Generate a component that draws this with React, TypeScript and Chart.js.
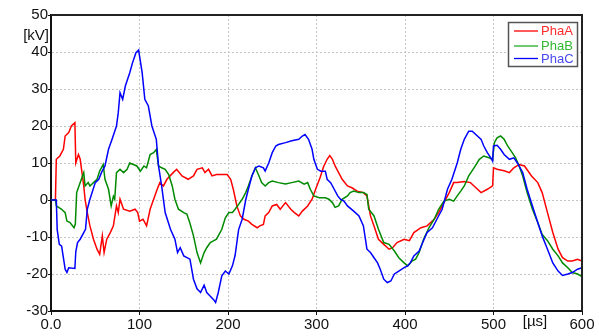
import React, { useEffect, useRef } from "react";
import { Chart, registerables } from "chart.js";

Chart.register(...registerables);

const seriesNames = ["PhaA", "PhaB", "PhaC"];
const lineColors = ["#ff0000", "#008a00", "#0000ff"];
const legendTextColors = ["#ff2a2a", "#33b833", "#4a4af0"];

const xTicks = [0, 100, 200, 300, 400, 500, 600];
const yTicks = [-30, -20, -10, 0, 10, 20, 30, 40, 50];

const tA = [0,5,6,10,14,16,20,23,27,28,31,33,35,37,38.5,41,44,48,52,55,58,60,63,67,70.5,74,76,78,82,89,95,98,100,104,108,112,116,120,123,127,131,138,142,148,155,161,165,171,174,178,182,187,193,199,203,206,210,214,218,223,227,233,236,240,242,246,250,255,259,265,271,275,280,284,290,295,299,304,308,312,315,318,321,325,329,335,340,346,353,357,361,365,370,376,382,386,391,399,405,410,418,425,433,438,444,450,455,459,467,474,478,486,493,499,500,504,512,518,523,529,535,543,550,555,561,567,573,578,584,589,595,600];
const vA = [0,0,11,11.9,13.7,17.3,18.2,20,20.9,10,12.3,11,7.4,3.8,0.2,-3.4,-7,-10.6,-13.3,-14.7,-9.7,-14.2,-10.6,-8.8,-7,-1.6,-3.4,0.2,-2.5,-3,-2.5,-3.4,-5.7,-5.2,-7,-2.5,0.2,2.9,4.7,3.8,5.6,7.4,8.3,6.5,5.6,6.5,8.3,8.7,7.4,8.3,6.5,6.9,6.9,6.9,5.6,2.9,-1.6,-4.3,-5.2,-5.7,-6.6,-7.5,-7,-6.6,-4.3,-3.4,-1.6,-1.2,-2.5,-0.7,-2.5,-3.4,-4.3,-3,-1.6,0.2,2.9,6,9,11,12,11,9.2,7.4,5.6,3.8,3.3,2.4,2,1.1,-4.3,-7,-10.6,-12,-13.3,-12.9,-11.5,-10.6,-11,-8.8,-7.5,-7,-5.2,-3.4,-0.7,2,4.7,4.7,5,4.7,3.8,2,2.9,3.8,8.7,8.3,7.9,7.4,8.7,9.6,9.2,6.5,4.7,2,-3.4,-8.8,-13.3,-15.6,-16.5,-16.5,-16,-16.5];

const tB = [0,5,6,12,16,18,21.5,26,27.5,29,33,37,38.5,42,44,48,52,55,59,61,65,68,70.5,72,74,78,82,86,89,93,97,101,105,108,112,116,119,121.5,125,129,133,137,140,144,150,153.5,157,161,165,169,173,176,180,184,187,193,197,201,205,208,212,216,220,223,227,231,235,238,242,246,250,257,265,272,280,286,290,293,297,303,310,314,318,321,325,329,335,338,342,348,353,357,359,365,370,376,382,388,393,399,403,408,412,416,421,427,433,438,444,450,455,459,463,467,472,478,484,489,495,499,501,504,508,512,516,520,525,529,533,538,544,550,555,561,567,573,578,584,589,595,600];
const vB = [0,0,-1.6,-2.5,-3.4,-5.7,-6.1,-7.5,-6.5,2,4.7,7.4,3.8,4.7,3.8,4.7,5.6,7.8,9.6,5.6,2.9,-1.6,1,0.2,7.4,8.3,7.4,8.3,10,9.6,9.2,7.8,9.2,8.7,12.3,12.8,13.7,9.2,8.7,8.3,6.9,3.8,0.2,-2.5,-3.4,-3.8,-6.3,-9.7,-14.2,-17,-14.2,-12.9,-11.5,-11,-10.6,-7.9,-4.8,-3.4,-3.4,-2.5,-1.2,0.2,2,3.8,6.5,8.7,6.5,4.7,3.8,4.7,5.1,4.7,4.3,4.7,5.1,4.3,4.7,2.9,1.1,0.6,0.6,0.2,-0.7,-2,-1.6,0.2,1.1,2,2.4,2,2,1.5,-2.5,-4.3,-7.9,-11.5,-12,-13.8,-15.6,-17,-17.8,-16.5,-16,-14.2,-10.6,-7.5,-5.2,-2.5,-0.3,0.2,-0.3,1.1,2.4,3.8,6.5,8.7,11,11.9,11.4,11,15.5,16.8,17.3,16.4,14.6,13.2,11.4,9.2,6.5,2,-2.5,-6.1,-9.3,-11,-13.3,-15.1,-17,-18.3,-19.6,-20,-20.7];

const tC = [0,6,7,9.4,12,16,18,20,27,28,30,33,37,39,41,44,50,54,57,61,65,69,74,76,78,81,84,89,92,96,99,103,106,110,114,119,121.5,125,129,135,140,143,146,150,157,161,165,169,173,176,180,184,186,189,193,197,201,205,208,212,216,220,223,227,231,235,240,242,246,250,254,257,265,272,280,284,287,291,295,297,301,305,310,312,316,320,324,327,331,335,342,348,353,357,361,365,369,372,376,380,384,388,393,399,403,406,410,416,420,425,431,436,442,448,453,459,463,467,472,476,480,486,489,493,497,499,500,504,508,512,518,523,527,533,538,544,550,555,561,567,573,578,584,589,595,600];
const vC = [0,0,-8,-12,-12.5,-18.7,-19.6,-18.3,-18.5,-14,-11.5,-10.6,-8.8,-7.9,-2.5,0.2,4.7,5.6,7.4,9.2,13.7,16.4,20,23.6,29,27.2,30.8,34.4,37,39.8,40.5,34.4,27.2,25.4,20,16.4,9.2,3.8,-3.4,-7.9,-10.6,-14.2,-12.9,-15.1,-16,-21.4,-24,-25,-23,-25,-26,-27,-27.7,-25,-20.5,-19.2,-20,-17.8,-15,-8,-5.2,0,2.9,6.5,8.7,9.2,8.7,7.8,10,12.8,14.6,15,15.5,16,16.4,17.3,17.7,16.4,13.7,11,8.3,7.8,7.8,5.6,4.7,2.9,1.1,0.2,-0.3,-1.6,-3,-4.3,-7,-13.3,-14.2,-15.6,-17,-18.7,-21.4,-22.3,-21.9,-20,-19.2,-18.3,-17.8,-17,-15.1,-13.8,-11.5,-8.8,-7.5,-5.2,-2.5,2.9,5.6,10,13.7,16.4,18.6,18.6,17.7,16.4,14.6,12.8,11.4,10.5,14.6,14.8,13.7,12.3,11,11.4,10,7.4,2.9,-1.6,-6.1,-9.7,-13.3,-17,-19.2,-20.4,-20,-19.6,-18.7,-18.3];

const yUnit = "[kV]";
const xUnit = "[\u00b5s]";

const toPoints = (t: number[], v: number[]) => t.map((x, i) => ({ x, y: v[i] }));

const FONT = "'Liberation Sans', Arial, sans-serif";

const framePlugin = {
  id: "frame",
  afterDraw(chart: any) {
    const { ctx, chartArea } = chart;
    const { left, right, top, bottom } = chartArea;
    ctx.save();
    // top and right frame
    ctx.strokeStyle = "#222";
    ctx.lineWidth = 2;
    ctx.beginPath();
    ctx.moveTo(left, top);
    ctx.lineTo(right, top);
    ctx.lineTo(right, bottom);
    ctx.stroke();

    // unit labels
    ctx.fillStyle = "#111";
    ctx.font = `15px ${FONT}`;
    ctx.textAlign = "right";
    ctx.textBaseline = "middle";
    ctx.fillText(yUnit, 49, 36);
    ctx.textAlign = "center";
    ctx.fillText(xUnit, 535, 322);

    // legend
    const bx = 508.5, by = 22.5, bw = 69, bh = 44;
    ctx.fillStyle = "#fff";
    ctx.fillRect(bx, by, bw, bh);
    ctx.strokeStyle = "#555";
    ctx.lineWidth = 1.5;
    ctx.strokeRect(bx, by, bw, bh);
    const rows = [31, 46, 58.5];
    ctx.font = `13px ${FONT}`;
    ctx.textAlign = "left";
    seriesNames.forEach((name, i) => {
      ctx.strokeStyle = lineColors[i] === "#008a00" ? "#22aa22" : lineColors[i];
      ctx.lineWidth = 1.3;
      ctx.beginPath();
      ctx.moveTo(514, rows[i]);
      ctx.lineTo(538, rows[i]);
      ctx.stroke();
      ctx.fillStyle = legendTextColors[i];
      ctx.fillText(name, 541, rows[i] + 0.5);
    });
    ctx.restore();
  },
};

export default function App() {
  const ref = useRef<HTMLCanvasElement>(null);
  useEffect(() => {
    document.body.style.margin = "0";
    const series = [toPoints(tA, vA), toPoints(tB, vB), toPoints(tC, vC)];
    const chart = new Chart(ref.current!, {
      type: "line",
      data: {
        datasets: series.map((pts, i) => ({
          label: seriesNames[i],
          data: pts,
          borderColor: lineColors[i],
          borderWidth: 1.5,
          pointRadius: 0,
          tension: 0,
          fill: false,
          order: 3 - i,
        })),
      },
      options: {
        animation: false,
        responsive: false,
        devicePixelRatio: 1,
        layout: { padding: { top: 15, right: 17, left: 0, bottom: 0 } },
        plugins: { legend: { display: false }, tooltip: { enabled: false } },
        scales: {
          x: {
            type: "linear",
            min: 0,
            max: 600,
            afterFit: (s: any) => { s.height = 25; },
            afterBuildTicks: (s: any) => { s.ticks = xTicks.map((v) => ({ value: v })); },
            ticks: {
              color: "#111",
              font: { size: 15, family: FONT },
              padding: 1,
              maxRotation: 0,
              callback: (v: any) => (v === 0 ? "0.0" : String(v)),
            },
            grid: { color: "#c4c4c4", lineWidth: 1, tickColor: "#111", tickLength: 4 },
            border: { color: "#111", width: 2, dash: [2, 2] },
          },
          y: {
            type: "linear",
            min: -30,
            max: 50,
            afterFit: (s: any) => { s.width = 51; },
            afterBuildTicks: (s: any) => { s.ticks = yTicks.map((v) => ({ value: v })); },
            ticks: {
              color: "#111",
              font: { size: 15, family: FONT },
              padding: 0,
            },
            grid: { color: "#c4c4c4", lineWidth: 1, tickColor: "#111", tickLength: 3 },
            border: { color: "#111", width: 2, dash: [2, 2] },
          },
        },
      },
      plugins: [framePlugin],
    });
    return () => chart.destroy();
  }, []);
  return (
    <div style={{ width: 599, height: 336 }}>
      <canvas ref={ref} width={599} height={336} />
    </div>
  );
}
